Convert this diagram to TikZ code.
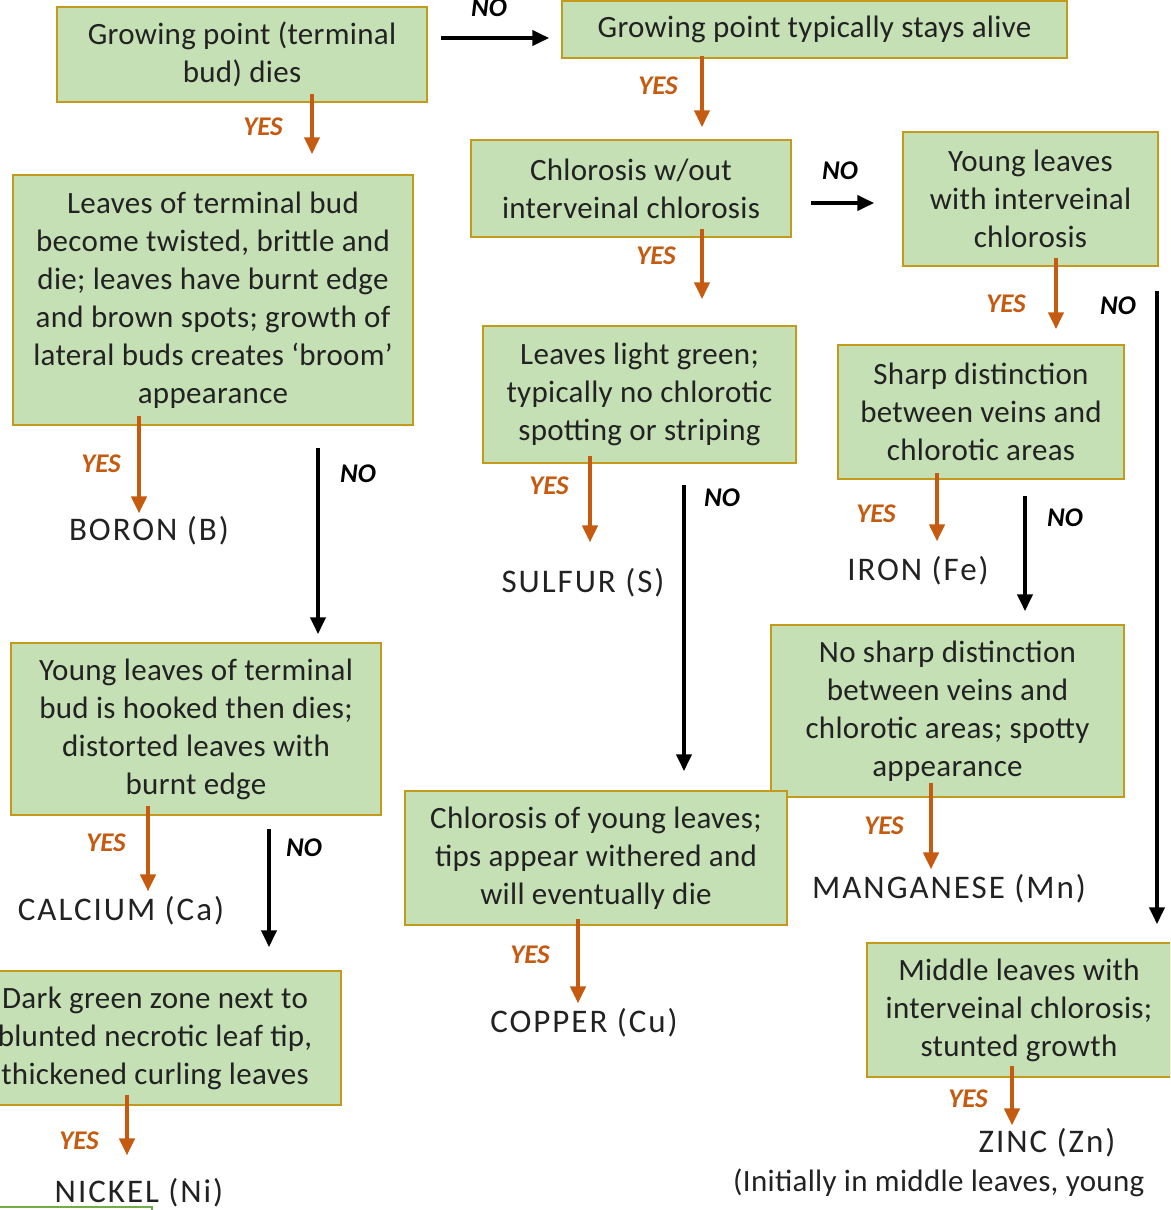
\documentclass[tikz,border=0pt]{standalone}
\usepackage{fontspec}
\setmainfont{Carlito}
\newfontfamily\elemfont[LetterSpace=6]{Carlito}
\newfontfamily\boxfont[LetterSpace=1]{Carlito}
\usetikzlibrary{arrows.meta,calc}
\definecolor{boxgreen}{HTML}{C5E0B4}
\definecolor{boxgold}{HTML}{C49A1C}
\definecolor{yesorange}{HTML}{C55A11}
\definecolor{txt}{HTML}{222222}
\definecolor{linegreen}{HTML}{70AD47}
\tikzset{
  box/.style={draw=boxgold, line width=1.5pt, fill=boxgreen, align=center, inner sep=0pt,
    text=txt, font=\boxfont\fontsize{31}{38}\selectfont},
  elem/.style={inner sep=0pt, text=txt, font=\elemfont\fontsize{33}{38}\selectfont},
  notefont/.style={inner sep=0pt, text=txt, font=\boxfont\fontsize{31}{38}\selectfont},
  yesarr/.style={draw=yesorange, line width=4pt, -{Triangle[length=17pt,width=15pt]}},
  noarr/.style={draw=black, line width=4pt, -{Triangle[length=17pt,width=15pt]}},
  yeslab/.style={text=yesorange, inner sep=0pt, font=\fontsize{27}{30}\selectfont\bfseries\itshape},
  nolab/.style={text=black, inner sep=0pt, font=\fontsize{27}{30}\selectfont\bfseries\itshape},
}
\begin{document}
\begin{tikzpicture}[x=1pt,y=-1pt]
\useasboundingbox (0,0) rectangle (1170,1210);
\clip (0,0) rectangle (1170,1210);

% boxes
\node[box, minimum width=370, minimum height=95] (b1) at (242,54.5) {Growing point (terminal\\bud) dies};
\node[box, minimum width=505, minimum height=57] (b2) at (814.5,29.5) {Growing point typically stays alive};
\node[box, minimum width=400, minimum height=250] (b3) at (213,300) {Leaves of terminal bud\\become twisted, brittle and\\die; leaves have burnt edge\\and brown spots; growth of\\lateral buds creates ‘broom’\\appearance};
\node[box, minimum width=320, minimum height=97] (b4) at (631,188.5) {Chlorosis w/out\\interveinal chlorosis};
\node[box, minimum width=255, minimum height=134] (b5) at (1030.5,199) {Young leaves\\with interveinal\\chlorosis};
\node[box, minimum width=313, minimum height=137] (b6) at (639.5,394.5) {Leaves light green;\\typically no chlorotic\\spotting or striping};
\node[box, minimum width=286, minimum height=134] (b7) at (981,412) {Sharp distinction\\between veins and\\chlorotic areas};
\node[box, minimum width=353, minimum height=172] (b8) at (947.5,711) {No sharp distinction\\between veins and\\chlorotic areas; spotty\\appearance};
\node[box, minimum width=370, minimum height=172] (b9) at (196,729) {Young leaves of terminal\\bud is hooked then dies;\\distorted leaves with\\burnt edge};
\node[box, minimum width=382, minimum height=134] (b10) at (596,858) {Chlorosis of young leaves;\\tips appear withered and\\will eventually die};
\node[box, minimum width=372, minimum height=134] (b11) at (155,1038) {Dark green zone next to\\blunted necrotic leaf tip,\\thickened curling leaves};
\node[box, minimum width=304, minimum height=134] (b12) at (1019,1010) {Middle leaves with\\interveinal chlorosis;\\stunted growth};

% partial box at bottom left
\draw[linegreen, line width=1.5pt] (-20,1207) -- (152,1207) -- (152,1260);

% element results
\node[elem] (boron) at (149,531) {BORON (B)};
\node[elem] (sulfur) at (583,583) {SULFUR (S)};
\node[elem] (iron) at (918,571) {IRON (Fe)};
\node[elem] (calcium) at (121,911) {CALCIUM (Ca)};
\node[elem] (manganese) at (949,889) {MANGANESE (Mn)};
\node[elem] (copper) at (584,1023) {COPPER (Cu)};
\node[elem] (nickel) at (139,1193) {NICKEL (Ni)};
\node[elem] (zinc) at (1047,1143) {ZINC (Zn)};
\node[notefont, anchor=west] (zincnote) at (733,1183) {(Initially in middle leaves, young};

% YES arrows
\draw[yesarr] ($(b1.south -| 312,0)+(0,-9)$) -- ($(b3.north -| 312,0)+(0,-20)$);
\draw[yesarr] ($(b2.south -| 702,0)+(0,-3)$) -- ($(b4.north -| 702,0)+(0,-12)$);
\draw[yesarr] ($(b4.south -| 702,0)+(0,-9)$) -- ($(b6.north -| 702,0)+(0,-26)$);
\draw[yesarr] ($(b5.south -| 1056,0)+(0,-9)$) -- ($(b7.north -| 1056,0)+(0,-15)$);
\draw[yesarr] ($(b3.south -| 139,0)+(0,-10)$) -- ($(boron.north -| 139,0)+(0,-3)$);
\draw[yesarr] ($(b6.south -| 590,0)+(0,-8)$) -- ($(sulfur.north -| 590,0)+(0,-26)$);
\draw[yesarr] ($(b7.south -| 937,0)+(0,-7)$) -- ($(iron.north -| 937,0)+(0,-15)$);
\draw[yesarr] ($(b9.south -| 148,0)+(0,-10)$) -- ($(calcium.north -| 148,0)+(0,-5)$);
\draw[yesarr] ($(b8.south -| 931,0)+(0,-15)$) -- ($(manganese.north -| 931,0)+(0,-5)$);
\draw[yesarr] ($(b10.south -| 578,0)+(0,-7)$) -- ($(copper.north -| 578,0)+(0,-5)$);
\draw[yesarr] ($(b11.south -| 127,0)+(0,-11)$) -- ($(nickel.north -| 127,0)+(0,-23)$);
\draw[yesarr] ($(b12.south -| 1012,0)+(0,-12)$) -- ($(zinc.north -| 1012,0)+(0,-3)$);

% NO arrows
\draw[noarr] ($(b1.east |- 0,38)+(13,0)$) -- ($(b2.west |- 0,38)+(-12,0)$);
\draw[noarr] ($(b4.east |- 0,203)+(19,0)$) -- ($(b5.west |- 0,203)+(-28,0)$);
\draw[noarr] ($(b5.south -| 1157,0)+(0,24)$) -- ($(b12.north -| 1157,0)+(0,-18)$);
\draw[noarr] ($(b3.south -| 318,0)+(0,22)$) -- ($(b9.north -| 318,0)+(0,-8)$);
\draw[noarr] ($(b6.south -| 684,0)+(0,21)$) -- ($(b10.north -| 684,0)+(0,-19)$);
\draw[noarr] ($(b7.south -| 1025,0)+(0,16)$) -- ($(b8.north -| 1025,0)+(0,-13)$);
\draw[noarr] ($(b9.south -| 269,0)+(0,13)$) -- ($(b11.north -| 269,0)+(0,-23)$);

% YES labels
\node[yeslab] (y1) at (263,127) {YES};
\node[yeslab] (y2) at (658,86) {YES};
\node[yeslab] (y3) at (656,256) {YES};
\node[yeslab] (y4) at (1006,304) {YES};
\node[yeslab] (y5) at (101,464) {YES};
\node[yeslab] (y6) at (549,486) {YES};
\node[yeslab] (y7) at (876,514) {YES};
\node[yeslab] (y8) at (106,843) {YES};
\node[yeslab] (y9) at (884,826) {YES};
\node[yeslab] (y10) at (530,955) {YES};
\node[yeslab] (y11) at (79,1141) {YES};
\node[yeslab] (y12) at (968,1099) {YES};

% NO labels
\node[nolab] (no1) at (489,8) {NO};
\node[nolab] (no2) at (840,171) {NO};
\node[nolab] (no3) at (1118,306) {NO};
\node[nolab] (no4) at (358,474) {NO};
\node[nolab] (no5) at (722,498) {NO};
\node[nolab] (no6) at (1065,518) {NO};
\node[nolab] (no7) at (304,848) {NO};
\end{tikzpicture}
\end{document}
